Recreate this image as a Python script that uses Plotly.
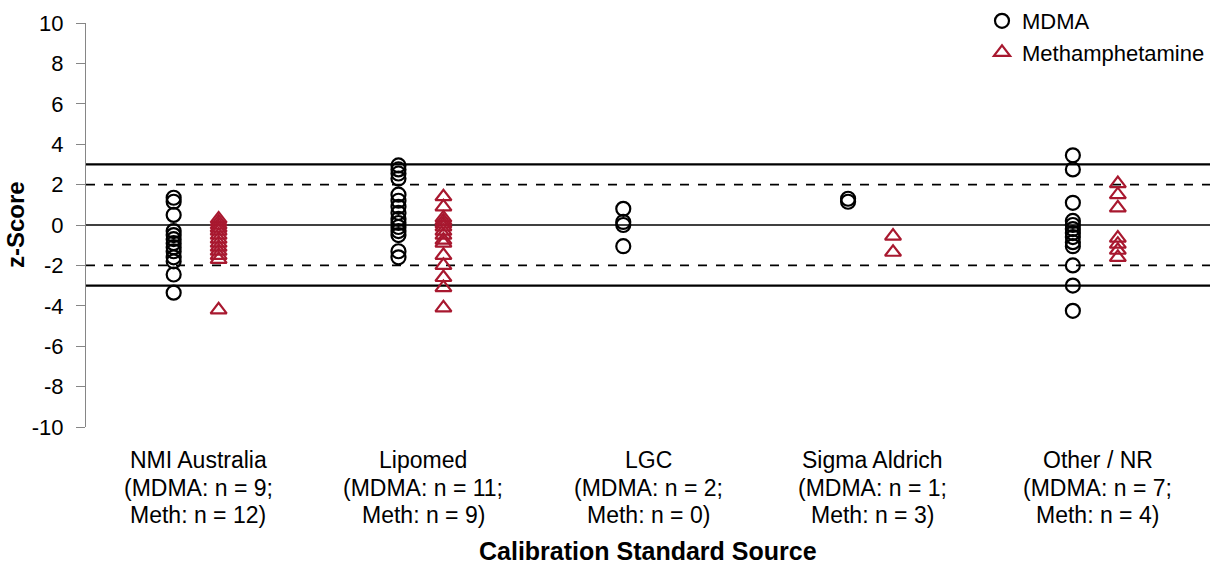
import plotly.graph_objects as go

categories = ["NMI Australia", "Lipomed", "LGC", "Sigma Aldrich", "Other / NR"]
label_line2 = ["(MDMA: n = 9;", "(MDMA: n = 11;", "(MDMA: n = 2;", "(MDMA: n = 1;", "(MDMA: n = 7;"]
label_line3 = ["Meth: n = 12)", "Meth: n = 9)", "Meth: n = 0)", "Meth: n = 3)", "Meth: n = 4)"]

y_ticks = list(range(-10, 11, 2))
y_tick_labels = [str(v) for v in y_ticks]  # hyphen-minus, as in the reference

mdma_nmi = [1.35, 1.15, 0.5, -0.3, -0.5, -0.7, -0.9, -1.1, -1.3, -1.6, -1.8, -2.45, -3.35]
mdma_lipomed = [2.95, 2.75, 2.55, 2.3, 1.5, 1.2, 0.9, 0.6, 0.3, 0.1, -0.1, -0.3, -0.5, -1.3, -1.6]
mdma_lgc = [0.8, 0.15, 0.0, -1.05]
mdma_sigma = [1.3, 1.15]
mdma_other = [3.45, 2.75, 1.1, 0.2, 0.0, -0.2, -0.4, -0.6, -0.85, -1.05, -2.0, -3.0, -4.25]

meth_nmi = [0.3, 0.15, 0.0, -0.15, -0.3, -0.5, -0.7, -0.9, -1.1, -1.3, -1.5, -1.7, -4.2]
meth_lipomed = [1.4, 0.9, 0.35, 0.2, 0.05, -0.1, -0.3, -0.5, -0.75, -0.9, -1.5, -2.0, -2.6, -3.1, -4.1]
meth_lgc = []
meth_sigma = [-0.55, -1.35]
meth_other = [2.05, 1.5, 0.85, -0.65, -0.95, -1.25, -1.6]

mdma_values = [mdma_nmi, mdma_lipomed, mdma_lgc, mdma_sigma, mdma_other]
meth_values = [meth_nmi, meth_lipomed, meth_lgc, meth_sigma, meth_other]

limit_lines = [3, 2, 0, -2, -3]
limit_styles = {3: ("solid", 2.2), 2: ("dash", 1.8), 0: ("solid", 1.4), -2: ("dash", 1.8), -3: ("solid", 2.2)}

MDMA_OFFSET = -0.11
METH_OFFSET = 0.09
RED = "#A8182F"
AXIS_GREY = "#868686"
FONT = "Liberation Sans, Arial, sans-serif"

FIG_W, FIG_H = 1213, 566
M_LEFT, M_RIGHT, M_BOTTOM = 86, 3, 139
PLOT_TOP_PX = 23  # gap above the plot area, kept inside the paper so the legend can sit there


def spread(groups, offset):
    xs, ys = [], []
    for i, vals in enumerate(groups):
        for v in vals:
            xs.append(i + 1 + offset)
            ys.append(v)
    return xs, ys


fig = go.Figure()

for y in limit_lines:
    dash, width = limit_styles[y]
    fig.add_hline(y=y, line=dict(color="black", width=width, dash=dash), layer="below")

mx, my = spread(mdma_values, MDMA_OFFSET)
tx, ty = spread(meth_values, METH_OFFSET)

fig.add_trace(go.Scatter(
    x=mx, y=my, mode="markers", name="MDMA",
    marker=dict(symbol="circle-open", size=14, color="black", line=dict(width=2.2)),
))
fig.add_trace(go.Scatter(
    x=tx, y=ty, mode="markers", name="Methamphetamine",
    marker=dict(symbol="triangle-up-open", size=14, color=RED, line=dict(width=2.2)),
))

# Category labels (three lines each, tighter line spacing than Plotly's default)
annotations = []
for i, (l1, l2, l3) in enumerate(zip(categories, label_line2, label_line3)):
    for row, txt in enumerate([l1, l2, l3]):
        annotations.append(dict(
            x=i + 1, xref="x", y=0, yref="paper", yanchor="middle", xanchor="center",
            text=txt, showarrow=False, yshift=-(33 + 27.5 * row),
            font=dict(size=23, color="black", family=FONT),
        ))
annotations.append(dict(
    x=0.5, xref="paper", y=0, yref="paper", xanchor="center", yanchor="middle",
    text="<b>Calibration Standard Source</b>", showarrow=False, yshift=-124,
    font=dict(size=25, color="black", family=FONT),
))
annotations.append(dict(
    x=0, xref="paper", y=0, yref="y", xanchor="center", yanchor="middle",
    text="<b>z-Score</b>", showarrow=False, xshift=-70, textangle=-90,
    font=dict(size=24, color="black", family=FONT),
))

paper_h = FIG_H - M_BOTTOM
fig.update_layout(
    width=FIG_W, height=FIG_H,
    margin=dict(l=M_LEFT, r=M_RIGHT, t=0, b=M_BOTTOM, autoexpand=False),
    paper_bgcolor="white", plot_bgcolor="white",
    font=dict(family=FONT, size=18, color="black"),
    legend=dict(
        x=1.0, y=1.0, xanchor="right", yanchor="top",
        font=dict(size=22), bgcolor="rgba(0,0,0,0)",
        itemsizing="trace", itemwidth=30, tracegroupgap=0,
    ),
    showlegend=True,
    annotations=annotations,
)

fig.update_xaxes(
    range=[0.5, 5.5],
    showticklabels=False, ticks="", showline=False, showgrid=False, zeroline=False,
)
fig.update_yaxes(
    range=[-10, 10],
    domain=[0, (paper_h - PLOT_TOP_PX) / paper_h],
    tickmode="array", tickvals=y_ticks, ticktext=y_tick_labels,
    showline=True, linecolor=AXIS_GREY, linewidth=1.3,
    ticks="outside", ticklen=9, tickcolor=AXIS_GREY, tickwidth=1.3,
    ticklabelstandoff=8,
    showgrid=False, zeroline=False,
    tickfont=dict(size=22),
)

fig.write_html("out.html")
